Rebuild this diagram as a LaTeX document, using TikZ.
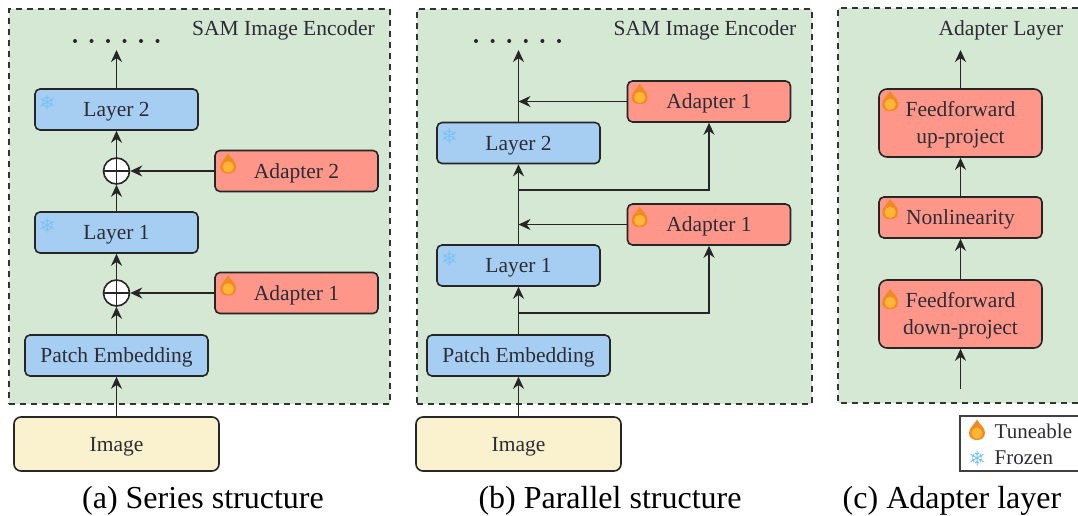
\documentclass[tikz,border=0pt]{standalone}
\usepackage{fontspec}
\setmainfont{Liberation Serif}
\usetikzlibrary{arrows.meta}
\definecolor{panelgreen}{HTML}{D5E8D4}
\definecolor{layerblue}{HTML}{A6CEF3}
\definecolor{adapterred}{HTML}{FF968A}
\definecolor{imageyellow}{HTML}{FAF1CF}
\definecolor{flameorange}{HTML}{F28A24}
\definecolor{flameyellow}{HTML}{FFB636}
\definecolor{flakeblue}{HTML}{7CC3F5}
\definecolor{labelgrey}{HTML}{2C2C34}
\tikzset{
	base/.style={draw=black!85,line width=1.6pt,rounded corners=5pt,inner sep=0pt,text=labelgrey,align=center,text height=16pt,text depth=2pt,font=\fontsize{21.5}{27}\selectfont},
	layer/.style={base,fill=layerblue,minimum width=163pt,minimum height=41pt},
	embed/.style={base,fill=layerblue,minimum width=183pt,minimum height=41pt},
	adapter/.style={base,fill=adapterred,minimum width=163pt,minimum height=41pt},
	tallstage/.style={adapter,minimum height=68pt,rounded corners=8pt,text height=42pt,text depth=2pt},
	imagebox/.style={base,fill=imageyellow,minimum width=205pt,minimum height=54pt,rounded corners=7pt},
	panel/.style={fill=panelgreen,draw=black!80,line width=1.6pt,dash pattern=on 6pt off 5pt,anchor=north west,inner sep=0pt,minimum height=395pt},
	panelname/.style={text=labelgrey,inner sep=0pt,font=\fontsize{21.5}{24}\selectfont},
	legendtext/.style={text=labelgrey,inner sep=0pt,anchor=west,font=\fontsize{21}{24}\selectfont},
	caption/.style={inner sep=0pt,font=\fontsize{32}{36}\selectfont},
	sum/.style={circle,fill=white,draw=black!85,line width=1.6pt,minimum size=26pt,inner sep=0pt,
		path picture={\draw[line width=1.3pt] (path picture bounding box.north) -- (path picture bounding box.south)
			(path picture bounding box.west) -- (path picture bounding box.east);}},
	flow/.style={-{Stealth[length=12pt,width=11pt]},line width=1.5pt,black!85},
	flame/.pic={
		\fill[flameorange] (0,-10.5) .. controls (2,-6) and (8,-3) .. (8,3) .. controls (8,8) and (4,10) .. (0,10) .. controls (-4,10) and (-8,8) .. (-8,3) .. controls (-8,-2) and (-3,-5) .. (0,-10.5) -- cycle;
		\fill[flameyellow] (0,3.2) circle (5.6);
	},
	flake/.pic={
		\foreach \ang in {30,90,150}{
			\draw[flakeblue,line width=1pt,rotate=\ang] (-7.5,0) -- (7.5,0)
				(5,-2) -- (3.5,0) -- (5,2) (-5,-2) -- (-3.5,0) -- (-5,2);
		}
	}
}
\begin{document}
\begin{tikzpicture}[x=1pt,y=-1pt]
	\useasboundingbox (0,0) rectangle (1078,516);
	\node[panel,minimum width=381pt] (panelA) at (8,8) {};
	\node[panel,minimum width=395pt] (panelB) at (416,8) {};
	\fill[panelgreen] (838,8) rectangle (1078,403);
	\coordinate (panelCtop) at (1078,8);
	\coordinate (panelCbot) at (1078,403);
	\draw[line width=1.6pt,black!80,dash pattern=on 6pt off 5pt] (panelCtop) -- (838,8) -- (838,403) -- (panelCbot);

	\node[panelname] (titleA) at (283.5,30) {SAM Image Encoder};
	\node[panelname] (titleB) at (705,30) {SAM Image Encoder};
	\node[panelname] (titleC) at (1001,30) {Adapter Layer};

	\foreach \i in {0,...,5}{
		\fill[black!85] (75+\i*16.5,41) circle (2);
		\fill[black!85] (476+\i*16.6,41) circle (2);
	}

	\node[imagebox] (imageA) at (116.5,444) {Image};
	\node[embed] (patchA) at (116.5,355.5) {Patch Embedding};
	\node[sum] (sumone) at (116.5,293) {};
	\node[layer] (layeroneA) at (116.5,232.5) {Layer 1};
	\node[sum] (sumtwo) at (116.5,171) {};
	\node[layer] (layertwoA) at (116.5,109.5) {Layer 2};
	\node[adapter] (adapteroneA) at (296.5,293) {Adapter 1};
	\node[adapter] (adaptertwoA) at (296.5,171) {Adapter 2};
	\coordinate (topA) at (116.5,50);

	\path[flow]
	(imageA) edge (patchA)
	(patchA) edge (sumone)
	(sumone) edge (layeroneA)
	(layeroneA) edge (sumtwo)
	(sumtwo) edge (layertwoA)
	(layertwoA) edge (topA)
	(adapteroneA) edge (sumone)
	(adaptertwoA) edge (sumtwo);

	\node[imagebox] (imageB) at (518.5,444) {Image};
	\node[embed] (patchB) at (518.5,355.5) {Patch Embedding};
	\node[layer] (layeroneB) at (518.5,265.5) {Layer 1};
	\node[layer] (layertwoB) at (518.5,143) {Layer 2};
	\node[adapter] (adapteroneB) at (709,224.5) {Adapter 1};
	\node[adapter] (adaptertwoB) at (709,101.5) {Adapter 1};
	\coordinate (topB) at (518.5,50);
	\coordinate (mergeone) at (518.5,224.5);
	\coordinate (mergetwo) at (518.5,101.5);
	\coordinate (branchone) at (518.5,313);
	\coordinate (branchtwo) at (518.5,190);

	\path[flow]
	(imageB) edge (patchB)
	(patchB) edge (layeroneB)
	(layeroneB) edge (layertwoB)
	(layertwoB) edge (topB)
	(adapteroneB) edge (mergeone)
	(adaptertwoB) edge (mergetwo)
	(branchone) edge[to path={-| (\tikztotarget)}] (adapteroneB)
	(branchtwo) edge[to path={-| (\tikztotarget)}] (adaptertwoB);

	\node[tallstage] (upproject) at (960.5,123) {Feedforward\\up-project};
	\node[adapter] (nonlinear) at (960.5,217.5) {Nonlinearity};
	\node[tallstage] (downproject) at (960.5,314) {Feedforward\\down-project};
	\coordinate (inC) at (960.5,389);
	\coordinate (topC) at (960.5,50);

	\path[flow]
	(inC) edge (downproject)
	(downproject) edge (nonlinear)
	(nonlinear) edge (upproject)
	(upproject) edge (topC);

	\foreach \nd/\dx/\dy in {adapteroneA/14/14,adaptertwoA/14/14,adapteroneB/13/14,adaptertwoB/13/14,upproject/12/13,nonlinear/12/13,downproject/12/20}{
		\pic at ([xshift=\dx pt,yshift=-\dy pt]\nd.north west) {flame};
	}
	\foreach \nd in {layeroneA,layertwoA,layeroneB,layertwoB}{
		\pic at ([xshift=13pt,yshift=-14pt]\nd.north west) {flake};
	}

	\coordinate (legendtop) at (1078,416);
	\coordinate (legendbot) at (1078,471);
	\draw[line width=1.3pt,black!75] (legendtop) -- (960,416) -- (960,471) -- (legendbot);
	\pic at (977,430) {flame};
	\pic at (977,458) {flake};
	\node[legendtext] (tuneable) at (994.5,431) {Tuneable};
	\node[legendtext] (frozen) at (994.5,458) {Frozen};

	\node[caption] (captionA) at (203,501) {(a) Series structure};
	\node[caption] (captionB) at (610,501) {(b) Parallel structure};
	\node[caption] (captionC) at (952,501) {(c) Adapter layer};
\end{tikzpicture}
\end{document}
